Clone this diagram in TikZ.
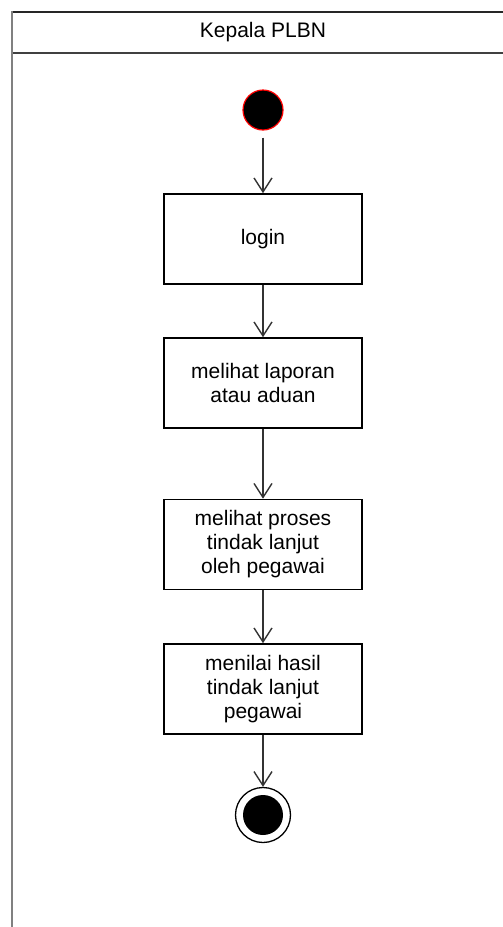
\documentclass[tikz,border=0pt]{standalone}
\usepackage{fontspec}
\setmainfont{Liberation Sans}
\usetikzlibrary{arrows.meta}
\begin{document}
\begin{tikzpicture}[x=1pt,y=-1pt,
  actbox/.style={draw=black, line width=1.6pt, fill=white, minimum width=198pt,
    minimum height=90pt, inner sep=0pt, align=center,
    font=\fontsize{21}{24}\selectfont},
  flow/.style={draw=black!80, line width=1.4pt,
    -{Straight Barb[length=14pt,width=18pt,line width=1.4pt]}},
  lane/.style={line width=2pt}
]
\useasboundingbox (0,0) rectangle (503,927);
\begin{scope}
\clip (0,0) rectangle (503,927);
% swimlane frame and header separator
\draw[lane, black!85] (12,12) -- (530,12);
\draw[lane, black!75] (12,53) -- (530,53);
\draw[line width=2.6pt, black!50] (12,11) -- (12,940);
\end{scope}
\node[font=\fontsize{21}{24}\selectfont] (title) at (263,32) {Kepala PLBN};

% initial node
\node[circle, fill=black, draw=red, line width=1.2pt, minimum size=40pt,
  inner sep=0pt] (start) at (263,110) {};

% activities
\node[actbox] (login) at (263,239) {login};
\node[actbox] (lihat) at (263,383) {melihat laporan\\atau aduan};
\node[actbox] (proses) at (263,544.5) {melihat proses\\tindak lanjut\\oleh pegawai};
\node[actbox] (nilai) at (263,689) {menilai hasil\\tindak lanjut\\pegawai};

% final node
\node[circle, draw=black, line width=1.3pt, fill=white, minimum size=55pt,
  inner sep=0pt] (end) at (263,815) {};
\node[circle, fill=black, minimum size=40pt, inner sep=0pt] (endin) at (end) {};

% control flow
\draw[flow, shorten <=7pt] (start) -- (login);
\draw[flow] (login) -- (lihat);
\draw[flow] (lihat) -- (proses);
\draw[flow] (proses) -- (nilai);
\draw[flow] (nilai) -- (end);
\end{tikzpicture}
\end{document}
